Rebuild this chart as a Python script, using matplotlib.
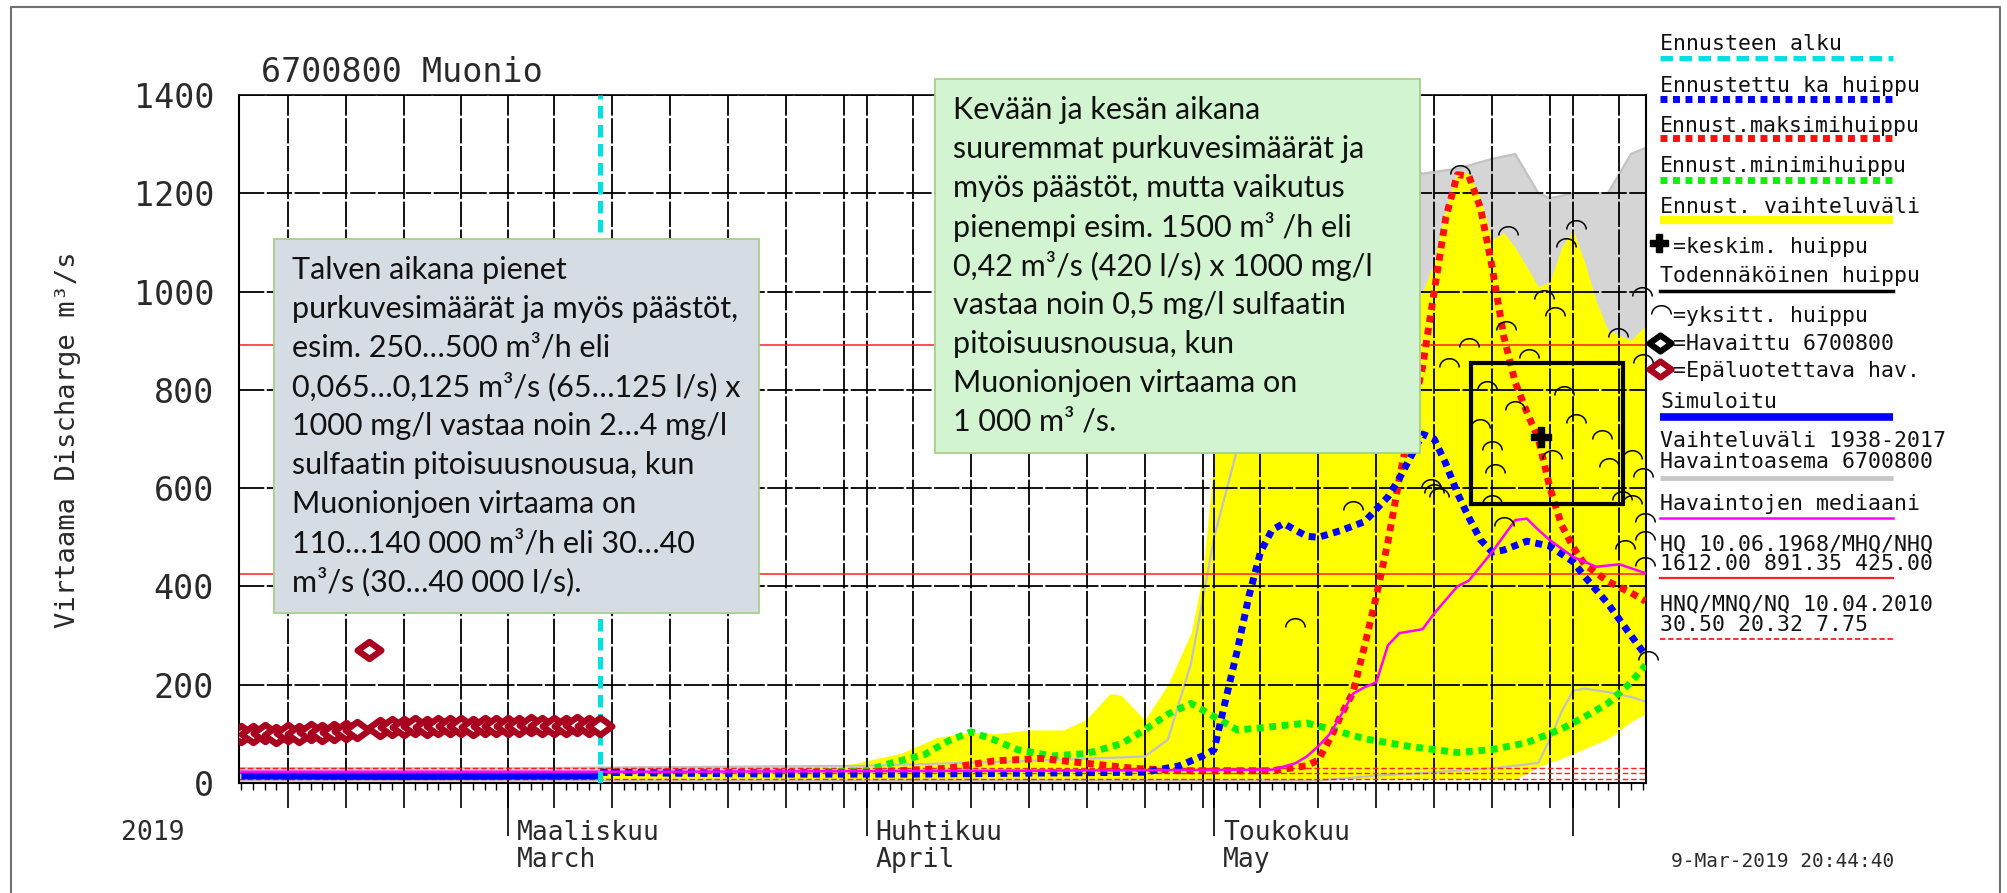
import numpy as np
import pandas as pd
import matplotlib
matplotlib.use("Agg")
import matplotlib.pyplot as plt
import matplotlib.dates as mdates
from matplotlib.path import Path
from matplotlib.patches import Rectangle
from matplotlib.ticker import NullFormatter

# ------------------------------------------------------------------ data
title_text = "6700800 Muonio"
ylabel_text = "Virtaama Discharge m³/s"
year_text = "2019"
stamp_text = "9-Mar-2019 20:44:40"
x_limits = ["2019-02-05 19:00", "2019-06-07 07:00"]
y_ticks = [0, 200, 400, 600, 800, 1000, 1200, 1400]
month_starts = ["2019-03-01", "2019-04-01", "2019-05-01"]
month_long_ticks = ["2019-03-01", "2019-04-01", "2019-05-01", "2019-06-01"]
month_fi = ["Maaliskuu", "Huhtikuu", "Toukokuu"]
month_en = ["March", "April", "May"]
forecast_start = "2019-03-09"

# unreliable observations (red diamonds)
obs_dates = pd.date_range("2019-02-06", "2019-03-09", freq="D")
obs_vals = [100, 99, 101, 98, 102, 100, 103, 101, 104, 106, 108, 270,
            112, 114, 113, 116, 114, 117, 115, 116, 114, 117, 115,
            117, 116, 118, 115, 117, 116, 118, 116, 117]

# simulated (solid blue)
sim_dates = ["2019-02-06", "2019-02-20", "2019-03-09"]
sim_vals = [15, 14, 15]

# observed median (magenta)
median_dates = ["2019-02-06", "2019-03-15", "2019-04-15", "2019-05-06", "2019-05-08",
                "2019-05-09", "2019-05-10", "2019-05-11", "2019-05-12", "2019-05-13",
                "2019-05-14", "2019-05-15", "2019-05-16", "2019-05-17", "2019-05-19",
                "2019-05-20", "2019-05-22", "2019-05-23", "2019-05-25", "2019-05-27",
                "2019-05-28", "2019-05-29", "2019-05-30", "2019-06-01", "2019-06-03",
                "2019-06-05", "2019-06-07 12:00"]
median_vals = [23, 23, 25, 27, 40, 54, 75, 100, 140, 182, 195, 205, 280, 305, 313,
               345, 400, 412, 470, 535, 538, 515, 494, 460, 440, 445, 425]

# forecast mean peak (blue dotted)
mean_dates = ["2019-03-09", "2019-03-15", "2019-03-25", "2019-04-05", "2019-04-15",
              "2019-04-25", "2019-04-28", "2019-04-30", "2019-05-01", "2019-05-02",
              "2019-05-03", "2019-05-04", "2019-05-05", "2019-05-06", "2019-05-07",
              "2019-05-08", "2019-05-09", "2019-05-10", "2019-05-12", "2019-05-14",
              "2019-05-16", "2019-05-17", "2019-05-18", "2019-05-19", "2019-05-20",
              "2019-05-21", "2019-05-22", "2019-05-23", "2019-05-24", "2019-05-25",
              "2019-05-26", "2019-05-28", "2019-05-30", "2019-06-01", "2019-06-02",
              "2019-06-04", "2019-06-06", "2019-06-07 06:00"]
mean_vals = [22, 20, 18, 18, 20, 22, 35, 55, 68, 170, 270, 380, 470, 515, 528, 515,
             502, 500, 514, 532, 582, 620, 665, 710, 700, 650, 590, 540, 495, 470,
             474, 492, 482, 450, 420, 365, 300, 260]

# forecast maximum peak (red dotted)
max_dates = ["2019-03-09", "2019-03-20", "2019-04-01", "2019-04-08", "2019-04-12",
             "2019-04-16", "2019-04-20", "2019-04-24", "2019-04-28", "2019-05-06",
             "2019-05-09", "2019-05-10", "2019-05-11", "2019-05-12", "2019-05-13",
             "2019-05-14", "2019-05-15", "2019-05-16", "2019-05-17", "2019-05-18",
             "2019-05-19", "2019-05-20", "2019-05-21", "2019-05-22", "2019-05-23",
             "2019-05-24", "2019-05-25", "2019-05-26", "2019-05-27", "2019-05-28",
             "2019-05-29", "2019-05-30", "2019-05-31", "2019-06-01", "2019-06-02",
             "2019-06-04", "2019-06-06", "2019-06-07 06:00"]
max_vals = [22, 22, 22, 30, 45, 50, 40, 30, 25, 25, 35, 47, 90, 140, 185, 280, 380,
            490, 620, 740, 847, 1000, 1150, 1238, 1235, 1170, 1050, 910, 815, 755,
            700, 600, 525, 480, 445, 410, 387, 370]

# forecast minimum peak (green dotted)
min_dates = ["2019-03-09", "2019-03-25", "2019-04-01", "2019-04-03", "2019-04-06",
             "2019-04-08", "2019-04-10", "2019-04-12", "2019-04-14", "2019-04-17",
             "2019-04-20", "2019-04-23", "2019-04-25", "2019-04-27", "2019-04-29",
             "2019-05-01", "2019-05-03", "2019-05-05", "2019-05-09", "2019-05-11",
             "2019-05-14", "2019-05-18", "2019-05-22", "2019-05-25", "2019-05-28",
             "2019-05-31", "2019-06-02", "2019-06-04", "2019-06-06", "2019-06-07 06:00"]
min_vals = [22, 20, 25, 40, 58, 85, 104, 88, 68, 55, 60, 80, 108, 140, 162, 135, 108,
            112, 122, 110, 90, 74, 62, 68, 82, 110, 135, 162, 205, 240]

# forecast variation range (yellow)
range_dates = ["2019-03-09", "2019-03-25", "2019-03-31", "2019-04-04", "2019-04-07",
               "2019-04-10", "2019-04-12", "2019-04-15", "2019-04-18", "2019-04-20",
               "2019-04-22", "2019-04-23", "2019-04-25", "2019-04-27", "2019-04-29",
               "2019-04-30", "2019-05-01", "2019-05-02", "2019-05-04", "2019-05-07",
               "2019-05-12", "2019-05-17", "2019-05-18", "2019-05-19", "2019-05-20",
               "2019-05-21", "2019-05-22", "2019-05-23", "2019-05-24", "2019-05-25",
               "2019-05-26", "2019-05-27", "2019-05-28", "2019-05-29", "2019-05-30",
               "2019-05-31", "2019-06-01", "2019-06-02", "2019-06-03", "2019-06-04",
               "2019-06-06", "2019-06-08"]
range_high = [25, 25, 40, 61, 92, 104, 100, 108, 108, 130, 182, 178, 128, 200, 305,
              420, 660, 800, 950, 1000, 1050, 1000, 1000, 1000, 1060, 1170, 1245, 1240,
              1190, 1105, 1120, 1090, 1050, 1010, 1020, 1090, 1125, 1060, 980, 922,
              901, 950]
range_low = [8, 8, 8, 8, 8, 8, 8, 8, 8, 8, 8, 8, 8, 8, 8, 8, 8, 8, 8, 8, 8, 8, 8, 8,
             8, 8, 8, 8, 8, 8, 8, 8, 20, 33, 42, 50, 60, 70, 80, 90, 125, 150]

# historical variation 1938-2017 (gray)
hist_dates = ["2019-02-05", "2019-03-01", "2019-04-01", "2019-04-15", "2019-04-25",
              "2019-04-27", "2019-04-29", "2019-05-01", "2019-05-03", "2019-05-05",
              "2019-05-07", "2019-05-10", "2019-05-15", "2019-05-19", "2019-05-22",
              "2019-05-25", "2019-05-27", "2019-05-28", "2019-05-29", "2019-05-30",
              "2019-05-31", "2019-06-01", "2019-06-02", "2019-06-04", "2019-06-06",
              "2019-06-08"]
hist_max = [30, 30, 35, 45, 54, 88, 243, 500, 680, 1000, 1250, 1300, 1280, 1240, 1250,
            1270, 1280, 1240, 1200, 1190, 1195, 1200, 1200, 1200, 1280, 1300]
hist_min = [5, 5, 5, 5, 5, 5, 5, 5, 5, 5, 5, 5, 15, 20, 25, 30, 35, 38, 41, 90, 145,
            188, 192, 185, 175, 160]

# individual ensemble peaks (arcs)
peak_dates = ["2019-05-08", "2019-05-13", "2019-05-19 18:00", "2019-05-20",
              "2019-05-20 10:00", "2019-05-21 07:00", "2019-05-22 05:00", "2019-05-23",
              "2019-05-23 22:00", "2019-05-24 14:00", "2019-05-25", "2019-05-25 07:00",
              "2019-05-25", "2019-05-26", "2019-05-26 05:00", "2019-05-26 10:00",
              "2019-05-27", "2019-05-29 12:00", "2019-05-30 05:00", "2019-05-30 10:00",
              "2019-05-31 05:00", "2019-06-01 05:00", "2019-06-01 05:00",
              "2019-06-03 12:00", "2019-06-04 02:00", "2019-06-04 22:00",
              "2019-06-05 05:00", "2019-06-05 12:00", "2019-06-06 02:00",
              "2019-06-06 02:00", "2019-06-07", "2019-06-07", "2019-06-07 05:00",
              "2019-06-07 05:00", "2019-06-07 05:00", "2019-06-07 12:00",
              "2019-05-31 10:00", "2019-05-28 05:00", "2019-06-06 22:00"]
peak_vals = [318, 556, 600, 590, 582, 847, 1240, 888, 722, 800, 678, 630, 567, 522,
             922, 1115, 759, 985, 659, 950, 790, 1127, 733, 700, 643, 908, 576, 477,
             659, 568, 854, 622, 531, 495, 441, 250, 1091, 865, 990]

# mean peak (+) and probable peak window (black box)
mean_peak_date, mean_peak_val = "2019-05-29 05:00", 704
window_dates = ["2019-05-23 05:00", "2019-06-05 07:00"]
window_vals = [568, 855]

# reference levels
MHQ, NHQ = 891.35, 425.00
HNQ, MNQ, NQ = 30.50, 20.32, 7.75

legend_lines = ["Ennusteen alku", "Ennustettu ka huippu", "Ennust.maksimihuippu",
                "Ennust.minimihuippu", "Ennust. vaihteluväli", "=keskim. huippu",
                "Todennäköinen huippu", "=yksitt. huippu", "=Havaittu 6700800",
                "=Epäluotettava hav.", "Simuloitu", "Vaihteluväli 1938-2017",
                "Havaintoasema 6700800", "Havaintojen mediaani",
                "HQ 10.06.1968/MHQ/NHQ", "1612.00 891.35 425.00",
                "HNQ/MNQ/NQ 10.04.2010", "30.50 20.32 7.75"]

box1_lines = ["Talven aikana pienet", "purkuvesimäärät ja myös päästöt,",
              "esim. 250…500 m³/h eli", "0,065…0,125 m³/s (65…125 l/s) x",
              "1000 mg/l vastaa noin 2…4 mg/l", "sulfaatin pitoisuusnousua, kun",
              "Muonionjoen virtaama on", "110…140 000 m³/h eli 30…40",
              "m³/s (30…40 000 l/s)."]
box2_lines = ["Kevään ja kesän aikana", "suuremmat purkuvesimäärät ja",
              "myös päästöt, mutta vaikutus", "pienempi esim. 1500 m³ /h eli",
              "0,42 m³/s (420 l/s) x 1000 mg/l", "vastaa noin 0,5 mg/l sulfaatin",
              "pitoisuusnousua, kun", "Muonionjoen virtaama on", "1 000 m³ /s."]

# ------------------------------------------------------------------ styling
W, H, DPI = 2007, 893, 100
MONO = "DejaVu Sans Mono"
TXT = "#2a2a2a"


def D(s):
    return pd.to_datetime(s, format="ISO8601")


def N(s):
    return mdates.date2num(D(s))


DOT = (0, (1.0, 0.8))
BLUE, RED, GREEN = "#0000ff", "#ff1010", "#10ee10"
YELLOW, CYAN, MAGENTA = "#ffff00", "#00e0e0", "#ff00ff"
DIAMOND_RED = "#a8001e"

theta = np.linspace(0, np.pi, 30)
arc = Path(np.column_stack([np.cos(theta), 0.9 * np.sin(theta)]))
diamond = Path([(-1, 0), (0, 0.72), (1, 0), (0, -0.72), (-1, 0)],
               [Path.MOVETO, Path.LINETO, Path.LINETO, Path.LINETO, Path.CLOSEPOLY])

fig = plt.figure(figsize=(W / DPI, H / DPI), dpi=DPI)
fig.patch.set_facecolor("white")

L, R, T, B = 239, 1646, 95, 783
ax = fig.add_axes([L / W, 1 - B / H, (R - L) / W, (B - T) / H])
ax.set_facecolor("white")

ax.fill_between(N(hist_dates), hist_min, hist_max, color="#d5d5d5", lw=0, zorder=1)
ax.fill_between(N(range_dates), range_low, range_high, color=YELLOW, lw=0, zorder=1.2)
ax.plot(N(hist_dates), hist_max, color="#c2c2c2", lw=1.6, zorder=1.4)
ax.plot(N(hist_dates), hist_min, color="#c2c2c2", lw=1.6, zorder=1.4)

for v in (MHQ, NHQ):
    ax.axhline(v, color="#ff2020", lw=1.1, zorder=2)
for v in (HNQ, MNQ, NQ):
    ax.axhline(v, color="#ff2020", lw=1.0, ls=(0, (4, 2)), zorder=2)

ax.plot(N(sim_dates), sim_vals, color=BLUE, lw=5.5, zorder=3, solid_capstyle="butt")
ax.plot(N(min_dates), min_vals, color=GREEN, lw=5, ls=DOT, zorder=4)
ax.plot(N(max_dates), max_vals, color=RED, lw=5, ls=DOT, zorder=4.2)
ax.plot(N(mean_dates), mean_vals, color=BLUE, lw=5, ls=DOT, zorder=4.4)
ax.plot(N(median_dates), median_vals, color=MAGENTA, lw=1.8, zorder=5)

ax.axvline(N(forecast_start), color=CYAN, lw=3.6, ls=(0, (2.5, 1.3)), zorder=6)

ax.plot(mdates.date2num(obs_dates), obs_vals, ls="none", marker=diamond, ms=17,
        mfc="white", mec=DIAMOND_RED, mew=4.6, zorder=6)

ax.plot(N(peak_dates), peak_vals, ls="none", marker=arc, ms=14, mfc="none",
        mec="black", mew=1.1, zorder=7, clip_on=False)

wx = N(window_dates)
ax.plot([wx[0], wx[1], wx[1], wx[0], wx[0]],
        [window_vals[0], window_vals[0], window_vals[1], window_vals[1], window_vals[0]],
        color="black", lw=3, zorder=7, solid_joinstyle="miter")
ax.plot([N(mean_peak_date)], [mean_peak_val], marker="P", ms=14, color="black", zorder=8)

# axes
ax.set_xlim(N(x_limits[0]), N(x_limits[1]))
ax.set_ylim(0, 1400)
ax.set_yticks(y_ticks)
ax.set_yticklabels([str(v) for v in y_ticks], family=MONO, fontsize=24, color=TXT)
ax.tick_params(axis="y", length=0, pad=18)
ax.xaxis.set_major_locator(mdates.DayLocator(bymonthday=[1, 5, 10, 15, 20, 25, 30]))
ax.xaxis.set_minor_locator(mdates.DayLocator())
ax.xaxis.set_major_formatter(NullFormatter())
ax.tick_params(axis="x", which="major", length=18, width=1.2, direction="out")
ax.tick_params(axis="x", which="minor", length=5, width=1.0, direction="out")
ax.grid(which="major", color="black", lw=1.3, ls=(0, (14, 1.4)))
for s in ("left", "bottom", "right"):
    ax.spines[s].set_linewidth(1.5)
ax.spines["top"].set_linewidth(1.2)

ax.vlines(N(month_long_ticks), -53 / (B - T), 0, transform=ax.get_xaxis_transform(),
          clip_on=False, color="black", lw=1.2)
for d, fi, en in zip(month_starts, month_fi, month_en):
    ax.annotate(fi, xy=(N(d), 0), xycoords=ax.get_xaxis_transform(), xytext=(9, -57),
                textcoords="offset pixels", va="baseline", ha="left", family=MONO,
                fontsize=19, color=TXT)
    ax.annotate(en, xy=(N(d), 0), xycoords=ax.get_xaxis_transform(), xytext=(9, -84),
                textcoords="offset pixels", va="baseline", ha="left", family=MONO,
                fontsize=19, color=TXT)

# ------------------------------------------------------------------ overlay (pixel coords)
ov = fig.add_axes([0, 0, 1, 1], zorder=10)
ov.set_xlim(0, W)
ov.set_ylim(H, 0)
ov.axis("off")
ov.patch.set_alpha(0)

ov.plot([11, 11, 2000, 2000], [905, 7, 7, 905], color="#707070", lw=1.5)
ov.text(261, 82, title_text, family=MONO, fontsize=24, va="baseline", color=TXT)
ov.text(68, 440, ylabel_text, family=MONO, fontsize=19.5, rotation=90, va="center",
        ha="center", color=TXT)
ov.text(121, 840, year_text, family=MONO, fontsize=19, va="baseline", color=TXT)
ov.text(1671, 867, stamp_text, family=MONO, fontsize=14, va="baseline", color=TXT)

# legend
lx0, lx1 = 1660, 1893
ys = [50, 92, 132, 172, 213, 253, 282, 322, 350, 377, 408, 447, 468, 510, 550, 570, 610, 631]
xs = [lx0, lx0, lx0, lx0, lx0, 1673, lx0, 1673, 1673, 1673, lx0, lx0, lx0, lx0, lx0, lx0, lx0, lx0]
for s, x, y in zip(legend_lines, xs, ys):
    ov.text(x, y, s, family=MONO, fontsize=15.5, va="baseline", ha="left", color="#111111")
ov.plot([lx0, lx1], [58, 58], color=CYAN, lw=3.6, ls=(0, (2.5, 1.3)))
ov.plot([lx0, lx1], [99, 99], color=BLUE, lw=5, ls=DOT)
ov.plot([lx0, lx1], [138, 138], color=RED, lw=5, ls=DOT)
ov.plot([lx0, lx1], [180, 180], color=GREEN, lw=5, ls=DOT)
ov.plot([lx0, lx1], [220, 220], color=YELLOW, lw=6, solid_capstyle="butt")
ov.plot([1659], [243], marker="P", ms=13, color="black")
ov.plot([lx0, lx1], [291, 291], color="black", lw=2.5)
ov.plot([1661], [314], marker=arc, ms=14, mfc="none", mec="black", mew=1.1)
ov.plot([1660], [343], marker=diamond, ms=16, mfc="white", mec="black", mew=4.4)
ov.plot([1660], [369], marker=diamond, ms=16, mfc="white", mec=DIAMOND_RED, mew=4.4)
ov.plot([lx0, lx1], [417, 417], color=BLUE, lw=5.5, solid_capstyle="butt")
ov.plot([lx0, lx1], [478, 478], color="#c8c8c8", lw=3.5, solid_capstyle="butt")
ov.plot([lx0, lx1], [518, 518], color=MAGENTA, lw=1.8)
ov.plot([lx0, lx1], [578, 578], color="#ff2020", lw=1.6)
ov.plot([lx0, lx1], [639, 639], color="#ff2020", lw=1.3, ls=(0, (3, 1.5)))

# text boxes
fig.canvas.draw()
probe = ov.text(0, 0, box2_lines[1], family="Lato", fontsize=20)
wpx = probe.get_window_extent(fig.canvas.get_renderer()).width
probe.remove()
box_fs = 20 * 413 / wpx

ov.add_patch(Rectangle((274, 239), 759 - 274, 613 - 239, facecolor="#d6dce4",
                       edgecolor="#a8d08d", lw=1.3))
for i, s in enumerate(box1_lines):
    ov.text(292, 270 + 39 * i, s, family="Lato", fontsize=box_fs, va="center", ha="left",
            color="#111111")
ov.add_patch(Rectangle((935, 79), 1420 - 935, 453 - 79, facecolor="#d2f4d0",
                       edgecolor="#a8d08d", lw=1.3))
for i, s in enumerate(box2_lines):
    ov.text(953, 110 + 39 * i, s, family="Lato", fontsize=box_fs, va="center", ha="left",
            color="#111111")

fig.savefig("out.png", dpi=DPI, facecolor="white")
